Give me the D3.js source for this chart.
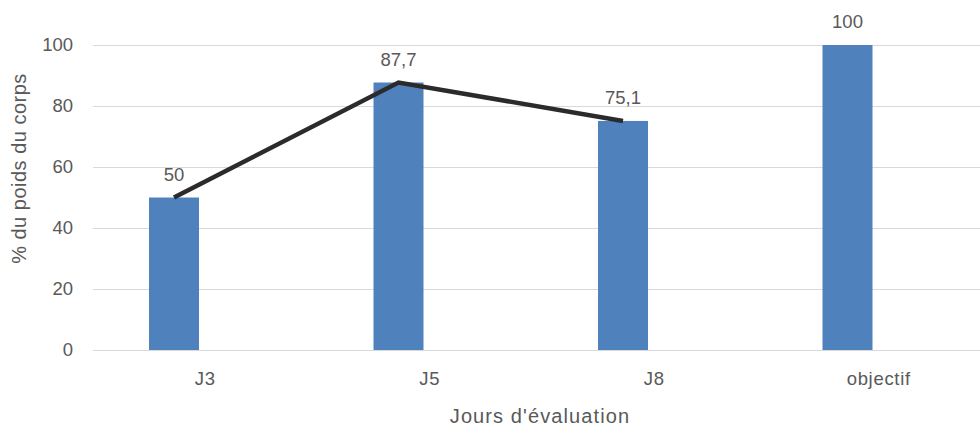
<!DOCTYPE html>
<html><head><meta charset="utf-8">
<script src="https://cdn.jsdelivr.net/npm/d3@7/dist/d3.min.js"></script>
<style>
body{margin:0;background:#fff;}
text{font-family:"Liberation Sans",Arial,sans-serif;fill:#595959;}
</style></head>
<body><svg id="c" width="980" height="432"></svg>
<script>
const categories = ["J3","J5","J8","objectif"];
const barValues = [50, 87.7, 75.1, 100];
const barLabels = ["50","87,7","75,1","100"];
const lineValues = [50, 87.7, 75.1];
const yTicks = [0,20,40,60,80,100];
const yTitle = "% du poids du corps";
const xTitle = "Jours d'évaluation";

const svg = d3.select("#c");
const mLeft = 93, mRight = 991, mTop = 45, mBottom = 350;
const x = d3.scaleBand().domain(categories).range([mLeft, mRight]).padding(0);
const sub = d3.scaleBand().domain(["bar","empty"]).range([0, x.bandwidth()])
  .paddingInner(0.2).paddingOuter(0.896);
const y = d3.scaleLinear().domain([0,100]).range([mBottom, mTop]);

// gridlines + y tick labels
const yAxis = d3.axisLeft(y).tickValues(yTicks).tickSize(-(980-mLeft)).tickPadding(20);
const gy = svg.append("g").attr("transform",`translate(${mLeft},0)`).call(yAxis);
gy.select(".domain").remove();
gy.selectAll(".tick line").attr("stroke","#d9d9d9").attr("stroke-width",1);
gy.selectAll(".tick text").style("font-size","18.5px").attr("fill","#595959")
  .attr("font-family",null);

// bars
svg.append("g").selectAll("rect").data(categories).join("rect")
  .attr("x", d => x(d) + sub("bar"))
  .attr("width", sub.bandwidth())
  .attr("y", (d,i) => y(barValues[i]))
  .attr("height", (d,i) => y(0) - y(barValues[i]))
  .attr("fill","#4f81bd");

// x axis labels
const xAxis = d3.axisBottom(x).tickSize(0).tickPadding(21.5);
const gx = svg.append("g").attr("transform",`translate(0,${mBottom})`).call(xAxis);
gx.select(".domain").remove();
gx.selectAll(".tick text").style("font-size","18.5px").style("letter-spacing","0.7px")
  .attr("fill","#595959").attr("font-family",null);

// line
const line = d3.line()
  .x((d,i) => x(categories[i]) + sub("bar") + sub.bandwidth()/2)
  .y(d => y(d));
svg.append("path").datum(lineValues).attr("d", line)
  .attr("fill","none").attr("stroke","#2b2b2b").attr("stroke-width",4.5);

// data labels
svg.append("g").selectAll("text").data(categories).join("text")
  .attr("x", d => x(d) + sub("bar") + sub.bandwidth()/2)
  .attr("y", (d,i) => y(barValues[i]) - 17)
  .attr("text-anchor","middle")
  .style("font-size","18.5px")
  .text((d,i) => barLabels[i]);

// titles
svg.append("text").attr("transform","translate(26,168.5) rotate(-90)")
  .attr("text-anchor","middle").style("font-size","20px").style("letter-spacing","0.5px")
  .text(yTitle);
svg.append("text").attr("x",540).attr("y",423)
  .attr("text-anchor","middle").style("font-size","20px").style("letter-spacing","1.1px")
  .text(xTitle);
</script></body></html>
